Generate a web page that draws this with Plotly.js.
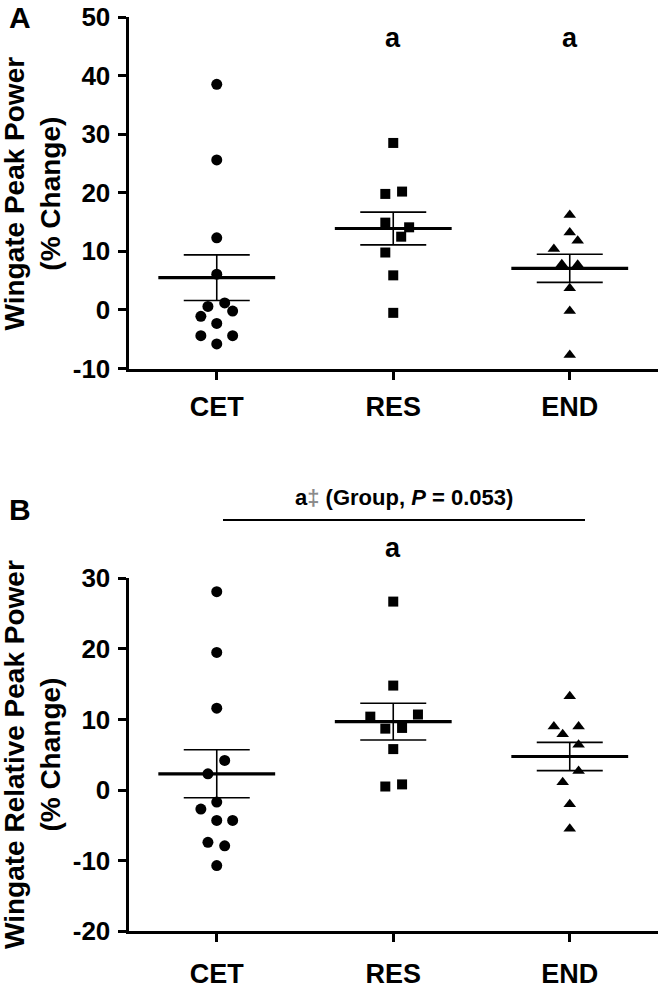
<!DOCTYPE html>
<html>
<head>
<meta charset="utf-8">
<script src="https://cdn.plot.ly/plotly-3.0.1.min.js"></script>
<style>html,body{margin:0;padding:0;background:#fff;}#chart{width:661px;height:990px;}</style>
</head>
<body>
<div id="chart"></div>
<script>
// ---------- DATA ----------
const categories = ['CET', 'RES', 'END'];

// Panel A: Wingate Peak Power (% change)
const cetA = [38.5, 25.6, 12.3, 6.1, 1.2, 0.6, -0.2, -1.1, -2.3, -4.4, -4.4, -5.8];
const resA = [28.5, 20.2, 19.8, 14.9, 14.1, 12.5, 9.8, 5.9, -0.5];
const endA = [16.2, 13.2, 11.8, 10.4, 7.8, 7.7, 3.7, -0.2, -7.7];
const meanA = [5.5, 13.9, 7.1];
const semA = [3.9, 2.8, 2.4];

// Panel B: Wingate Relative Peak Power (% change)
const cetB = [28.1, 19.5, 11.6, 4.2, 2.3, -1.7, -2.7, -4.3, -4.3, -7.4, -7.9, -10.7];
const resB = [26.7, 14.8, 10.4, 10.7, 8.7, 8.8, 5.8, 0.5, 0.8];
const endB = [13.3, 9.0, 9.0, 7.9, 6.4, 2.7, 1.1, -2.0, -5.5];
const meanB = [2.3, 9.7, 4.75];
const semB = [3.4, 2.6, 2.0];

const yTicksA = [-10, 0, 10, 20, 30, 40, 50];
const yTicksB = [-20, -10, 0, 10, 20, 30];

// horizontal scatter (jitter) offsets, in category units
const cetAJit = [0, 0, 0, 0, 0.045, -0.05, 0.09, -0.09, 0, -0.09, 0.09, 0];
const resAJit = [0, 0.05, -0.045, -0.045, 0.09, 0.045, -0.045, 0, 0];
const endAJit = [0, 0, 0.045, -0.09, -0.045, 0.045, 0, 0, 0];
const cetBJit = [0, 0, 0, 0.045, -0.05, 0, -0.09, 0, 0.09, -0.05, 0.045, 0];
const resBJit = [0, 0, -0.13, 0.14, -0.045, 0.05, 0, -0.045, 0.05];
const endBJit = [0, -0.09, 0.05, -0.04, 0.05, 0.05, -0.04, 0, 0];

// ---------- STYLE ----------
const FONT = 'Liberation Sans, Arial, Helvetica, sans-serif';
const symbols = ['circle', 'square', 'triangle-up'];
const sizes = [11, 10, 11];
const MEAN_HALF = 0.331;

function groupTraces(vals, jits, xa, ya) {
  return vals.map((v, gi) => ({
    type: 'scatter', mode: 'markers', xaxis: xa, yaxis: ya,
    x: v.map((_, i) => gi + jits[gi][i]),
    y: v,
    marker: {symbol: symbols[gi], size: sizes[gi], color: '#000', line: {width: 0}},
    hoverinfo: 'skip', showlegend: false, cliponaxis: false
  }));
}

function meanTrace(means, sems, xa, ya) {
  return {
    type: 'scatter', mode: 'markers', xaxis: xa, yaxis: ya,
    x: categories.map((_, i) => i), y: means,
    marker: {size: 1, opacity: 0},
    error_y: {type: 'data', array: sems, visible: true, color: '#000', thickness: 1.6, width: 33},
    error_x: {type: 'data', array: means.map(() => MEAN_HALF), visible: true, color: '#000', thickness: 3.2, width: 0},
    hoverinfo: 'skip', showlegend: false
  };
}

const traces = [
  ...groupTraces([cetA, resA, endA], [cetAJit, resAJit, endAJit], 'x', 'y'),
  meanTrace(meanA, semA, 'x', 'y'),
  ...groupTraces([cetB, resB, endB], [cetBJit, resBJit, endBJit], 'x2', 'y2'),
  meanTrace(meanB, semB, 'x2', 'y2')
];

const W = 661, H = 990;
const xDom = [128.5 / W, 658 / W];
const px = v => v / W;          // pixel -> paper x
const py = v => 1 - v / H;      // pixel -> paper y

function xAxis(anchor, standoff) {
  return {
    domain: xDom, anchor: anchor, range: [-0.5, 2.5], fixedrange: true,
    showline: true, linecolor: '#000', linewidth: 3,
    showgrid: false, zeroline: false,
    ticks: 'outside', ticklen: 8, tickwidth: 3, tickcolor: '#000',
    tickvals: categories.map((_, i) => i), ticktext: categories,
    ticklabelstandoff: standoff,
    tickfont: {family: FONT, size: 27, color: '#000', weight: 'bold'}
  };
}
function yAxis(anchor, dom, range, ticks) {
  return {
    domain: dom, anchor: anchor, range: range, fixedrange: true,
    showline: true, linecolor: '#000', linewidth: 3,
    showgrid: false, zeroline: false,
    ticks: 'outside', ticklen: 8, tickwidth: 3, tickcolor: '#000',
    tickvals: ticks, ticktext: ticks.map(String),
    ticklabelstandoff: 2,
    tickfont: {family: FONT, size: 26, color: '#000', weight: 'bold'}
  };
}

const titleFont = {family: FONT, size: 28, color: '#000', weight: 'bold'};
const bigFont = {family: FONT, size: 30, color: '#000', weight: 'bold'};
const letterFont = {family: FONT, size: 27, color: '#000', weight: 'bold'};

const layout = {
  width: W, height: H,
  margin: {l: 0, r: 0, t: 0, b: 0},
  paper_bgcolor: '#fff', plot_bgcolor: '#fff',
  showlegend: false,
  xaxis: xAxis('y', 4),
  yaxis: yAxis('x', [(H - 368.5) / H, (H - 17) / H], [-10, 50], yTicksA),
  xaxis2: xAxis('y2', 8),
  yaxis2: yAxis('x2', [(H - 931.2) / H, (H - 578.3) / H], [-20, 30], yTicksB),
  annotations: [
    {xref: 'paper', yref: 'paper', x: px(20), y: py(17), text: 'A', showarrow: false,
     font: bigFont, xanchor: 'center', yanchor: 'middle'},
    {xref: 'paper', yref: 'paper', x: px(20), y: py(509), text: 'B', showarrow: false,
     font: bigFont, xanchor: 'center', yanchor: 'middle'},
    {xref: 'paper', yref: 'paper', x: px(32), y: py(193.5), text: 'Wingate Peak Power<br>(% Change)',
     textangle: -90, showarrow: false, font: titleFont, xanchor: 'center', yanchor: 'middle'},
    {xref: 'paper', yref: 'paper', x: px(32), y: py(755), text: 'Wingate Relative Peak Power<br>(% Change)',
     textangle: -90, showarrow: false, font: titleFont, xanchor: 'center', yanchor: 'middle'},
    {xref: 'x', yref: 'y', x: 1, y: 46.4, text: 'a', showarrow: false, font: letterFont},
    {xref: 'x', yref: 'y', x: 2, y: 46.4, text: 'a', showarrow: false, font: letterFont},
    {xref: 'paper', yref: 'paper', x: px(393), y: py(548), text: 'a', showarrow: false, font: letterFont,
     xanchor: 'center', yanchor: 'middle'},
    {xref: 'paper', yref: 'paper', x: px(403.5), y: py(497),
     text: 'a<span style="color:#8a8a8a">‡</span> (Group, <i>P</i> = 0.053)', showarrow: false,
     font: {family: FONT, size: 22, color: '#000', weight: 'bold'}, xanchor: 'center', yanchor: 'middle'}
  ],
  shapes: [
    {type: 'line', xref: 'paper', yref: 'paper', x0: px(223), x1: px(585), y0: py(520), y1: py(520),
     line: {color: '#000', width: 2}}
  ]
};

Plotly.newPlot('chart', traces, layout, {staticPlot: true, displayModeBar: false});
</script>
</body>
</html>
